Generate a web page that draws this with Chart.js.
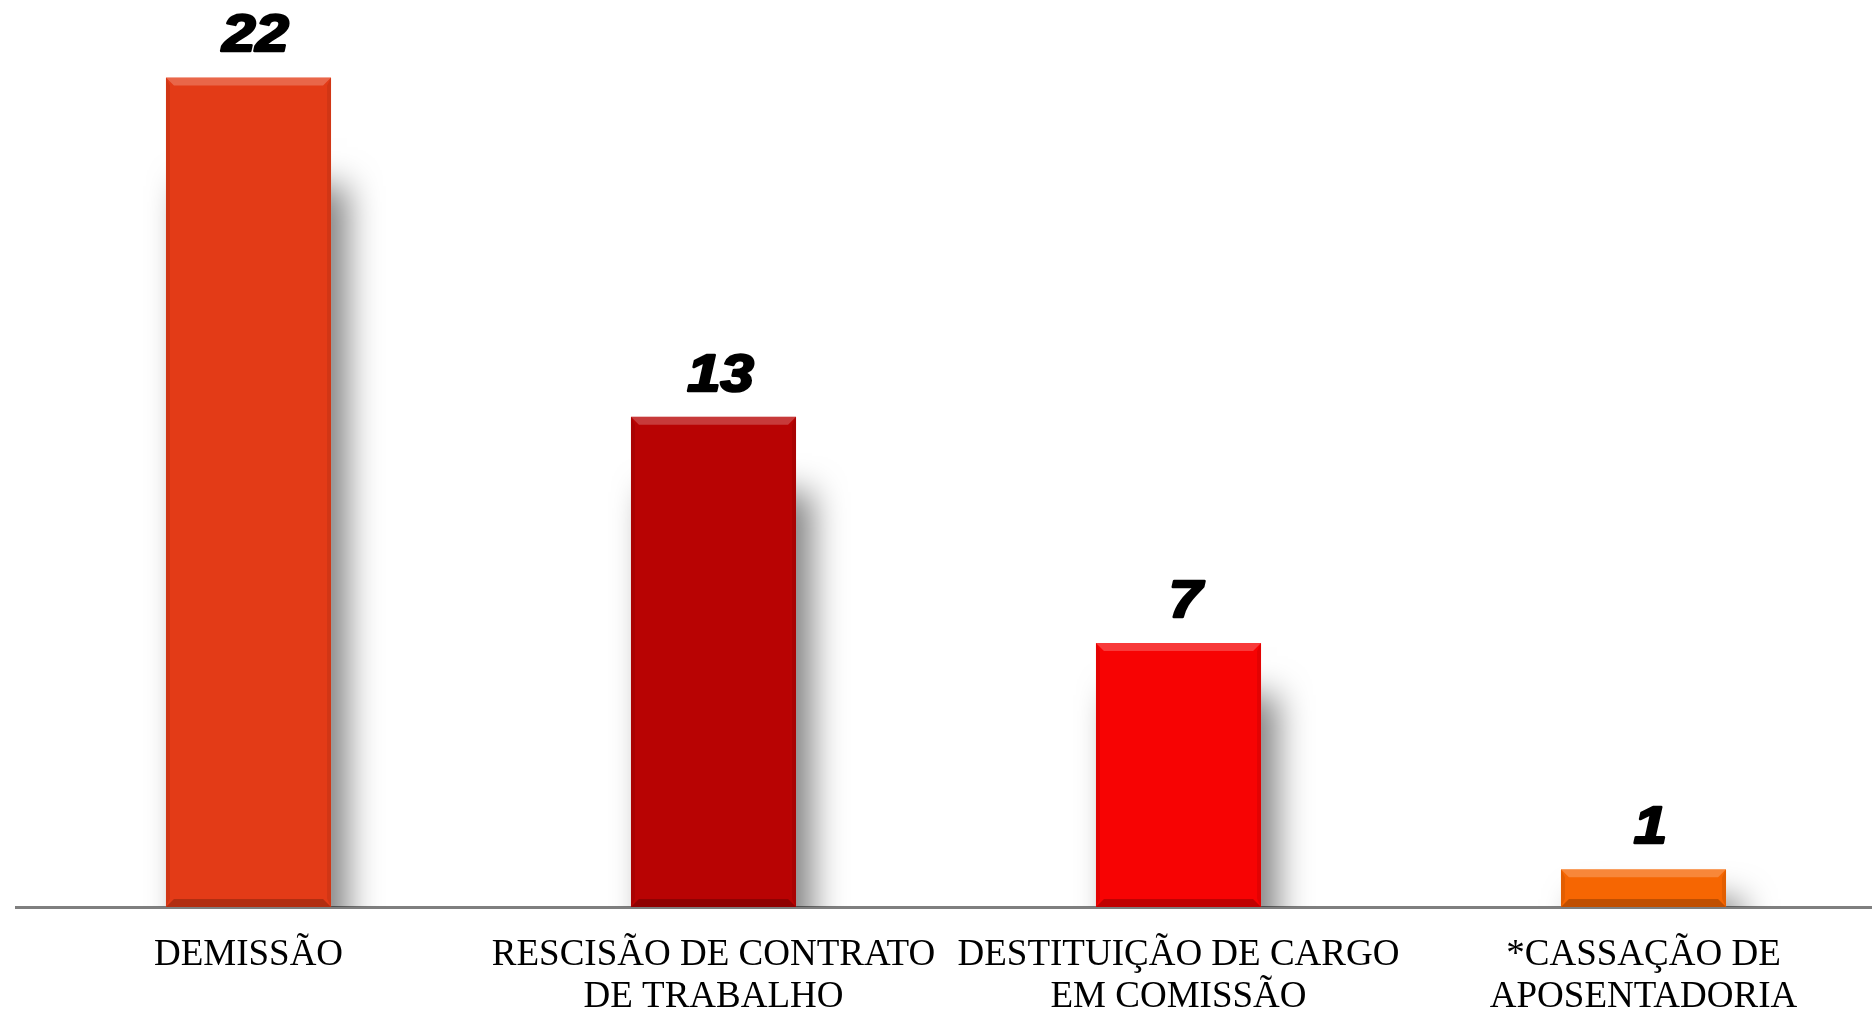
<!DOCTYPE html>
<html>
<head>
<meta charset="utf-8">
<script src="https://cdn.jsdelivr.net/npm/chart.js@4/dist/chart.umd.min.js"></script>
<style>
  html, body { margin: 0; padding: 0; background: #fff; overflow: hidden; }
  canvas { display: block; }
</style>
</head>
<body>
<canvas id="chart" width="1878" height="1011"></canvas>
<script>
const categories = [
  'DEMISSÃO',
  ['RESCISÃO DE CONTRATO', 'DE TRABALHO'],
  ['DESTITUIÇÃO DE CARGO', 'EM COMISSÃO'],
  ['*CASSAÇÃO DE', 'APOSENTADORIA']
];
const values = [22, 13, 7, 1];
const barColors = ['#E33B17', '#B80303', '#F70303', '#F66602'];

// sombra suave à direita das barras
const barShadow = {
  id: 'barShadow',
  beforeDatasetsDraw(chart) {
    const ctx = chart.ctx;
    const area = chart.chartArea;
    const meta = chart.getDatasetMeta(0);
    ctx.save();
    ctx.beginPath();
    ctx.rect(area.left, area.top, area.right - area.left, area.bottom - area.top);
    ctx.clip();
    meta.data.forEach(bar => {
      const h = bar.base - bar.y;
      const w = bar.width;
      ctx.shadowColor = 'rgba(0,0,0,0.5)';
      ctx.shadowBlur = 32;
      ctx.shadowOffsetX = 16;
      ctx.shadowOffsetY = Math.min(h * 0.1 + 26, 115);
      ctx.fillStyle = '#ffffff';
      ctx.fillRect(bar.x - w / 2, bar.y, w, h);
    });
    ctx.restore();
  }
};

// efeito de bisel e rótulos de valor
const barDecor = {
  id: 'barDecor',
  afterDatasetsDraw(chart) {
    const ctx = chart.ctx;
    const meta = chart.getDatasetMeta(0);
    meta.data.forEach((bar, i) => {
      const l = bar.x - bar.width / 2, r = bar.x + bar.width / 2;
      const t = bar.y, b = bar.base;
      const e = Math.min(8, (b - t) / 3);
      ctx.save();
      // topo claro
      ctx.fillStyle = 'rgba(255,255,255,0.22)';
      ctx.beginPath();
      ctx.moveTo(l, t); ctx.lineTo(r, t); ctx.lineTo(r - e, t + e); ctx.lineTo(l + e, t + e);
      ctx.closePath(); ctx.fill();
      // base escura
      ctx.fillStyle = 'rgba(0,0,0,0.22)';
      ctx.beginPath();
      ctx.moveTo(l, b); ctx.lineTo(r, b); ctx.lineTo(r - e, b - e); ctx.lineTo(l + e, b - e);
      ctx.closePath(); ctx.fill();
      // laterais
      ctx.fillStyle = 'rgba(0,0,0,0.08)';
      ctx.beginPath();
      ctx.moveTo(l, t); ctx.lineTo(l + e / 2, t + e); ctx.lineTo(l + e / 2, b - e); ctx.lineTo(l, b);
      ctx.closePath(); ctx.fill();
      ctx.beginPath();
      ctx.moveTo(r, t); ctx.lineTo(r - e / 2, t + e); ctx.lineTo(r - e / 2, b - e); ctx.lineTo(r, b);
      ctx.closePath(); ctx.fill();
      ctx.restore();

      ctx.save();
      ctx.translate(bar.x + 7, t - 26);
      ctx.scale(1.15, 1);
      ctx.font = 'italic bold 52px "Liberation Sans", Arial, sans-serif';
      ctx.textAlign = 'center';
      ctx.textBaseline = 'alphabetic';
      ctx.fillStyle = '#000';
      ctx.strokeStyle = '#000';
      ctx.lineWidth = 2.5;
      ctx.lineJoin = 'round';
      const txt = String(values[i]);
      ctx.strokeText(txt, 0, 0);
      ctx.fillText(txt, 0, 0);
      ctx.restore();
    });
  }
};

new Chart(document.getElementById('chart'), {
  type: 'bar',
  data: {
    labels: categories,
    datasets: [{
      data: values,
      backgroundColor: barColors,
      borderWidth: 0,
      barPercentage: 0.355,
      categoryPercentage: 1
    }]
  },
  options: {
    responsive: false,
    animation: false,
    layout: { padding: { top: 2, left: 16, right: 2, bottom: 0 } },
    plugins: {
      legend: { display: false },
      tooltip: { enabled: false }
    },
    scales: {
      x: {
        grid: { display: false, drawTicks: false },
        border: { display: true, color: '#7f7f7f', width: 3 },
        ticks: {
          color: '#000',
          padding: 27,
          maxRotation: 0,
          autoSkip: false,
          font: { family: '"Liberation Serif", "Times New Roman", serif', size: 37, lineHeight: 1.14 }
        },
        afterFit(scale) { scale.height = 104; }
      },
      y: {
        display: false,
        min: 0,
        max: 24
      }
    }
  },
  plugins: [barShadow, barDecor]
});
</script>
</body>
</html>
